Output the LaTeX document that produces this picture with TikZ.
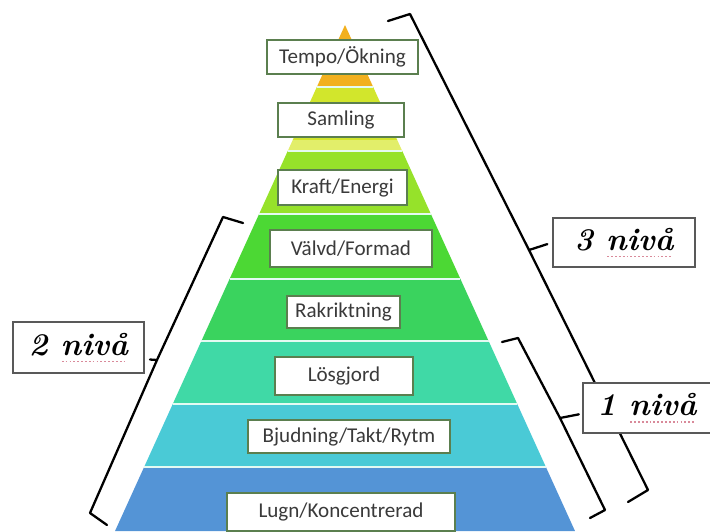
\documentclass[tikz,border=0pt]{standalone}
\usepackage{fontspec}
\usepackage{tikz}
\usetikzlibrary{calc,positioning}
\newfontfamily\boxfont{Carlito}

\definecolor{pyrorange}{HTML}{F2B01E}
\definecolor{pyryellow}{HTML}{D2E62C}
\definecolor{pyrpale}{HTML}{E2EE6A}
\definecolor{pyrlime}{HTML}{96E22A}
\definecolor{pyrgreen}{HTML}{4CD834}
\definecolor{pyrmid}{HTML}{3AD35E}
\definecolor{pyrteal}{HTML}{40D9A6}
\definecolor{pyrcyan}{HTML}{4ACAD6}
\definecolor{pyrblue}{HTML}{5494D6}
\definecolor{sepline}{HTML}{E4FAF2}
\definecolor{boxedge}{HTML}{5B7F4F}
\definecolor{boxtext}{HTML}{3A3A3A}
\definecolor{spellred}{HTML}{D98A9A}

\newsavebox\spellbox
\newcommand\spellmark[1]{\sbox\spellbox{#1}\rlap{\color{spellred}\raisebox{-4pt}{\leaders\hbox to 2.2pt{\hss\rule{1pt}{0.7pt}\hss}\hskip\wd\spellbox}}\usebox\spellbox}

\begin{document}
\begin{tikzpicture}[x=0.02cm,y=-0.02cm]
	\tikzstyle{lvlbox}=[rectangle,draw=boxedge,line width=1.1pt,fill=white,inner sep=0pt,text=boxtext,font=\boxfont\fontsize{12}{14}\selectfont]
	\tikzstyle{nivbox}=[rectangle,draw=black!65,line width=0.8pt,fill=white,inner sep=0pt,font=\fontsize{18}{20}\selectfont\bfseries\itshape]
	\tikzstyle{brk}=[line width=1.3pt,line join=round,line cap=round]
	\useasboundingbox (0,0) rectangle (710,531);

	% pyramid layers
	\foreach \ya/\yb/\col in {25/87/pyrorange,87/140/pyryellow,140/151/pyrpale,151/214/pyrlime,214/279/pyrgreen,279/341/pyrmid,341/404/pyrteal,404/467/pyrcyan,467/531/pyrblue}{
		\pgfmathsetmacro\wa{0.4545*(\ya-25)}
		\pgfmathsetmacro\wb{0.4545*(\yb-25)}
		\fill[\col] (345-\wa,\ya) -- (345+\wa,\ya) -- (345+\wb,\yb) -- (345-\wb,\yb) -- cycle;
	}
	\foreach \y in {87,151,214,279,341,404,467}{
		\pgfmathsetmacro\w{0.4545*(\y-25)}
		\draw[sepline,line width=1.6pt] (345-\w,\y) -- (345+\w,\y);
	}

	% level boxes
	\node[lvlbox,minimum width=3.02cm,minimum height=0.68cm] (tempo) at (342.5,57) {Tempo/Ökning};
	\node[lvlbox,minimum width=2.52cm,minimum height=0.68cm] (samling) at (341,120) {Samling};
	\node[lvlbox,minimum width=2.58cm,minimum height=0.70cm] (kraft) at (342.5,187.5) {Kraft/Energi};
	\node[lvlbox,minimum width=3.24cm,minimum height=0.74cm] (valvd) at (351,248.5) {Välvd/Formad};
	\node[lvlbox,minimum width=2.26cm,minimum height=0.64cm] (rak) at (343.5,312) {Rakriktning};
	\node[lvlbox,minimum width=2.76cm,minimum height=0.76cm] (losgjord) at (344,376) {Lösgjord};
	\node[lvlbox,minimum width=4.04cm,minimum height=0.66cm] (bjudning) at (349,436.5) {Bjudning/Takt/Rytm};
	\node[lvlbox,minimum width=4.56cm,minimum height=0.76cm] (lugn) at (341,512) {Lugn/Koncentrerad};

	% brackets
	\coordinate (h3a) at (388,21); \coordinate (h3b) at (410,14);
	\coordinate (m3) at (529,250);
	\coordinate (e3a) at (648,490); \coordinate (e3b) at (628,502);
	\coordinate (h1a) at (502,342); \coordinate (h1b) at (518,338);
	\coordinate (m1) at (560,418);
	\coordinate (e1a) at (605,510); \coordinate (e1b) at (590,518);
	\coordinate (h2a) at (243,223); \coordinate (h2b) at (223,217);
	\coordinate (m2) at (157,360);
	\coordinate (e2a) at (90,513); \coordinate (e2b) at (107,525);

	\draw[brk] (h3a) -- (h3b) -- (m3) -- (e3a) -- (e3b);
	\draw[brk] (h1a) -- (h1b) -- (m1) -- (e1a) -- (e1b);
	\draw[brk] (h2a) -- (h2b) -- (m2) -- (e2a) -- (e2b);

	% level labels
	\node[nivbox,minimum width=2.62cm,minimum height=1.02cm] (two) at (78.5,347.5) {2 \spellmark{nivå}};
	\node[nivbox,minimum width=2.84cm,minimum height=0.98cm] (three) at (624,242.5) {3 \spellmark{nivå}};
	\node[nivbox,minimum width=2.56cm,minimum height=1.00cm] (one) at (647,408) {1 \spellmark{nivå}};

	\draw[brk,shorten >=3pt] (m3) -- (three.west);
	\draw[brk,shorten >=2pt] (m1) -- (one.185);
	\draw[brk,shorten >=3pt] (m2) -- (two.-10);
\end{tikzpicture}
\end{document}
